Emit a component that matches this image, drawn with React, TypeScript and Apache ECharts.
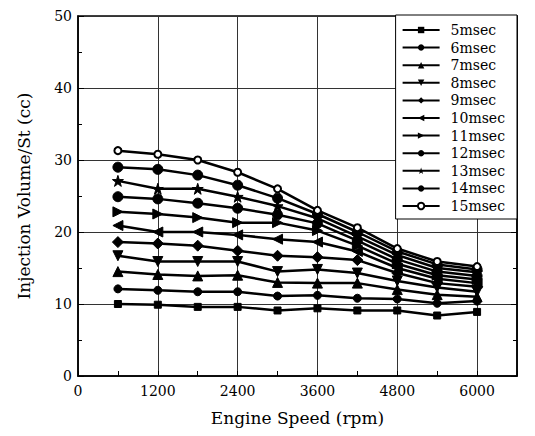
import React, { useEffect, useRef } from "react";
import * as echarts from "echarts";

const speeds = [600, 1200, 1800, 2400, 3000, 3600, 4200, 4800, 5400, 6000];
const names = ["5msec", "6msec", "7msec", "8msec", "9msec", "10msec", "11msec", "12msec", "13msec", "14msec", "15msec"];

const v5 = [10.0, 9.9, 9.6, 9.6, 9.1, 9.4, 9.1, 9.1, 8.4, 8.9];
const v6 = [12.1, 11.9, 11.7, 11.7, 11.1, 11.2, 10.8, 10.7, 10.1, 10.4];
const v7 = [14.5, 14.1, 13.9, 14.0, 13.0, 12.9, 12.9, 12.0, 11.3, 11.0];
const v8 = [16.7, 15.9, 15.9, 15.9, 14.5, 14.8, 14.3, 13.2, 12.3, 11.7];
const v9 = [18.6, 18.4, 18.1, 17.4, 16.7, 16.5, 16.1, 14.3, 12.9, 12.4];
const v10 = [20.9, 20.0, 20.0, 19.6, 19.0, 18.6, 17.3, 15.0, 13.5, 12.9];
const v11 = [22.8, 22.5, 22.0, 21.3, 21.3, 20.2, 18.1, 15.6, 14.0, 13.4];
const v12 = [24.9, 24.6, 24.0, 23.3, 22.4, 21.2, 18.8, 16.2, 14.5, 13.9];
const v13 = [27.1, 26.0, 26.0, 24.9, 23.6, 21.9, 19.4, 16.8, 15.0, 14.4];
const v14 = [29.0, 28.7, 27.9, 26.5, 24.7, 22.5, 20.0, 17.3, 15.5, 14.8];
const v15 = [31.3, 30.8, 30.0, 28.3, 26.0, 23.0, 20.6, 17.7, 15.9, 15.2];

const allValues = [v5, v6, v7, v8, v9, v10, v11, v12, v13, v14, v15];

const STAR = "path://M50 0 L61.8 35.1 L98.9 35.1 L69 56.7 L80.3 91.9 L50 70.4 L19.7 91.9 L31 56.7 L1.1 35.1 L38.2 35.1 Z";

const markers: { symbol: string; size: number; rotate?: number; empty?: boolean }[] = [
  { symbol: "rect", size: 7 },
  { symbol: "circle", size: 8 },
  { symbol: "triangle", size: 10 },
  { symbol: "triangle", size: 10, rotate: 180 },
  { symbol: "diamond", size: 11 },
  { symbol: "triangle", size: 10, rotate: 90 },
  { symbol: "triangle", size: 10, rotate: -90 },
  { symbol: "circle", size: 10 },
  { symbol: STAR, size: 11 },
  { symbol: "circle", size: 10 },
  { symbol: "emptyCircle", size: 7, empty: true },
];

const FONT = "DejaVu Serif";

export default function App() {
  const ref = useRef<HTMLDivElement>(null);
  useEffect(() => {
    if (!ref.current) return;
    const chart = echarts.init(ref.current, undefined, { renderer: "svg" });
    const series = names.map((name, i) => ({
      name,
      type: "line",
      xAxisIndex: 0,
      yAxisIndex: 0,
      data: speeds.map((s, j) => [s, allValues[i][j]]),
      symbol: markers[i].symbol,
      symbolSize: markers[i].size,
      symbolRotate: markers[i].rotate || 0,
      showAllSymbol: true,
      lineStyle: { color: "#000", width: 2.5 },
      itemStyle: markers[i].empty
        ? { color: "#000", borderColor: "#000", borderWidth: 3.5 }
        : { color: "#000", borderColor: "#000" },
      emphasis: { disabled: true },
    }));
    chart.setOption({
      animation: false,
      backgroundColor: "#fff",
      textStyle: { fontFamily: FONT, color: "#000" },
      grid: {
        left: 78,
        top: 16,
        width: 439,
        height: 360,
        show: true,
        borderColor: "#000",
        borderWidth: 1.5,
        backgroundColor: "transparent",
      },
      legend: {
        data: names,
        orient: "vertical",
        right: 18,
        top: 15,
        backgroundColor: "#fff",
        borderColor: "#000",
        borderWidth: 1,
        padding: [8, 12, 6, 6],
        itemGap: 3.6,
        itemWidth: 37,
        itemHeight: 8,
        textStyle: { fontFamily: FONT, fontSize: 14, color: "#000", padding: [0, 0, 0, 6] },
      },
      xAxis: [
        {
          type: "value",
          min: 0,
          max: 6600,
          interval: 600,
          position: "bottom",
          name: "Engine Speed (rpm)",
          nameLocation: "middle",
          nameGap: 33,
          nameTextStyle: { fontFamily: FONT, fontSize: 17, color: "#000" },
          axisLine: { show: true, onZero: false, lineStyle: { color: "#000", width: 1.5 } },
          axisTick: { show: true, inside: true, length: 5, lineStyle: { color: "#000" } },
          axisLabel: {
            fontFamily: FONT,
            fontSize: 14,
            color: "#000",
            margin: 8,
            formatter: (v: number) => (v % 1200 === 0 && v <= 6000 ? String(v) : ""),
          },
          splitLine: { show: false },
        },
        {
          type: "value",
          min: 0,
          max: 6600,
          interval: 1200,
          position: "bottom",
          axisLine: { show: false },
          axisTick: { show: false },
          axisLabel: { show: false },
          splitLine: { show: true, lineStyle: { color: "#333", width: 1 } },
        },
      ],
      yAxis: [
        {
          type: "value",
          min: 0,
          max: 50,
          interval: 10,
          position: "left",
          name: "Injection Volume/St (cc)",
          nameLocation: "middle",
          nameGap: 46,
          nameTextStyle: { fontFamily: FONT, fontSize: 17, color: "#000" },
          axisLine: { show: true, onZero: false, lineStyle: { color: "#000", width: 1.5 } },
          axisTick: { show: true, inside: true, length: 6, lineStyle: { color: "#000" } },
          minorTick: { show: true, splitNumber: 2, length: 4, lineStyle: { color: "#000" } },
          axisLabel: { fontFamily: FONT, fontSize: 14, color: "#000", margin: 6 },
          splitLine: { show: true, lineStyle: { color: "#333", width: 1 } },
        },
        {
          type: "value",
          min: 0,
          max: 50,
          interval: 10,
          position: "right",
          axisLine: { show: true, onZero: false, lineStyle: { color: "#000", width: 1.5 } },
          axisTick: { show: true, inside: true, length: 6, lineStyle: { color: "#000" } },
          minorTick: { show: true, splitNumber: 2, length: 4, lineStyle: { color: "#000" } },
          axisLabel: { show: false },
          splitLine: { show: false },
        },
      ],
      series,
    });
    return () => chart.dispose();
  }, []);
  return (
    <div
      ref={ref}
      style={{ position: "absolute", left: 0, top: 0, width: 535, height: 436 }}
    />
  );
}
